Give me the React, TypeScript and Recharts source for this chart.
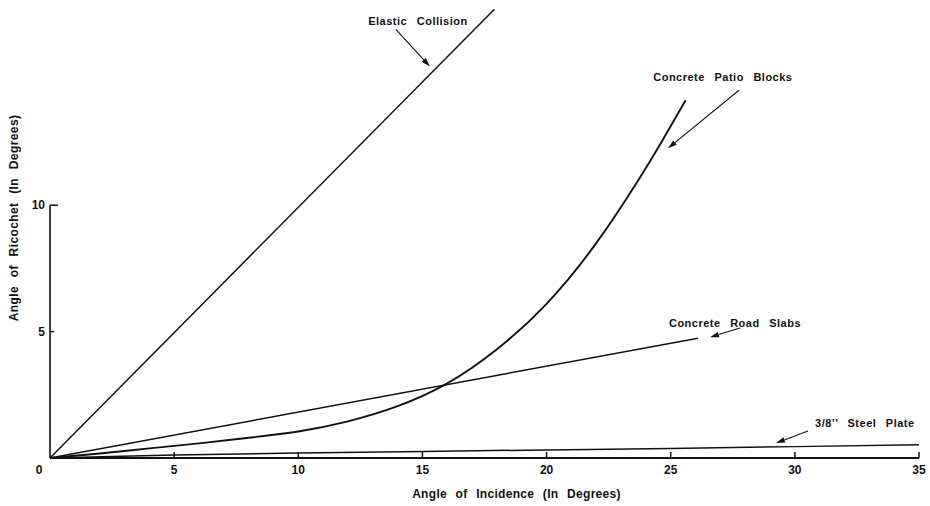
import React from 'react';
import { LineChart, Line, XAxis, YAxis, ReferenceLine, ReferenceDot } from 'recharts';

const FONT = '"Liberation Sans", Arial, Helvetica, sans-serif';
const INK = '#111';

const xTicks = [0, 5, 10, 15, 20, 25, 30, 35];
const yTicks = [0, 5, 10];
const yAxisSpan = [0, 10];

const elasticX = [0, 17.9];
const elasticY = [0, 17.75];

const patioX = [0, 2, 4, 6, 8, 10, 12, 14, 16, 18, 20, 22, 23.7, 24.6, 25.6];
const patioY = [0, 0.18, 0.38, 0.58, 0.8, 1.05, 1.45, 2.05, 2.95, 4.3, 6.1, 8.5, 11.0, 12.45, 14.15];

const roadX = [0, 26.1];
const roadY = [0, 4.74];

const steelX = [0, 5, 10, 15, 20, 25, 30, 35];
const steelY = [0, 0.12, 0.2, 0.26, 0.32, 0.38, 0.45, 0.52];

const noteText = ['Elastic Collision', 'Concrete Patio Blocks', 'Concrete Road Slabs', '3/8\u2019\u2019 Steel Plate'];
const noteX = [14.82, 27.1, 27.59, 32.82];
const noteY = [17.27, 15.06, 5.34, 1.38];
const arrowFromX = [13.93, 27.75, 27.79, 30.53];
const arrowFromY = [16.96, 14.55, 5.14, 1.07];
const arrowToX = [15.3, 24.89, 26.58, 29.24];
const arrowToY = [15.49, 12.25, 4.78, 0.59];

const toPoints = (xs: number[], ys: number[]) => xs.map((x, i) => ({ x, y: ys[i] }));

const elasticData = toPoints(elasticX, elasticY);
const patioData = toPoints(patioX, patioY);
const roadData = toPoints(roadX, roadY);
const steelData = toPoints(steelX, steelY);

const textStyle = {
  fontFamily: FONT,
  fontWeight: 700,
  fill: INK,
} as const;

const XTick = (props: any) => {
  const { x, y, payload } = props;
  const v = payload.value;
  if (v === 0) {
    return (
      <text x={x - 11} y={y + 16} textAnchor="middle" fontSize={12} {...textStyle}>
        0
      </text>
    );
  }
  return (
    <g>
      <line x1={x} x2={x} y1={y} y2={y - 6} stroke={INK} strokeWidth={1.5} />
      <text x={x} y={y + 16} textAnchor="middle" fontSize={12} {...textStyle}>
        {v}
      </text>
    </g>
  );
};

const YTick = (props: any) => {
  const { x, y, payload } = props;
  const v = payload.value;
  if (v === 0) return <g />;
  const len = v === 10 ? 8 : 4;
  return (
    <g>
      <line x1={x} x2={x + len} y1={y} y2={y} stroke={INK} strokeWidth={1.5} />
      <text x={x - 5} y={y + 4} textAnchor="end" fontSize={12} {...textStyle}>
        {v}
      </text>
    </g>
  );
};

const Arrow = (props: any) => {
  const { x1, y1, x2, y2 } = props;
  const dx = x2 - x1;
  const dy = y2 - y1;
  const len = Math.sqrt(dx * dx + dy * dy) || 1;
  const ux = dx / len;
  const uy = dy / len;
  const head = 9;
  const hw = 2.8;
  const bx = x2 - ux * head;
  const by = y2 - uy * head;
  const pts = `${x2},${y2} ${bx - uy * hw},${by + ux * hw} ${bx + uy * hw},${by - ux * hw}`;
  return (
    <g>
      <line x1={x1} y1={y1} x2={bx} y2={by} stroke={INK} strokeWidth={1.1} />
      <polygon points={pts} fill={INK} />
    </g>
  );
};

const makeNote = (text: string) => (props: any) => {
  const { cx, cy } = props;
  return (
    <text
      x={cx}
      y={cy + 4}
      textAnchor="middle"
      fontSize={11}
      letterSpacing={0.5}
      wordSpacing={6}
      {...textStyle}
    >
      {text}
    </text>
  );
};

const XTitle = (props: any) => {
  const vb = props.viewBox || { x: 50, y: 458, width: 869, height: 48 };
  return (
    <text
      x={vb.x + vb.width / 2 + 32}
      y={vb.y + 40}
      textAnchor="middle"
      fontSize={12}
      letterSpacing={0.3}
      wordSpacing={5}
      {...textStyle}
    >
      Angle of Incidence (In Degrees)
    </text>
  );
};

const YTitle = (props: any) => {
  const cx = 18;
  const cy = 218;
  return (
    <text
      x={cx}
      y={cy}
      transform={`rotate(-90 ${cx} ${cy})`}
      textAnchor="middle"
      fontSize={12}
      letterSpacing={0.4}
      wordSpacing={5}
      {...textStyle}
    >
      Angle of Ricochet (In Degrees)
    </text>
  );
};

export default function App() {
  return (
    <div style={{ position: 'absolute', left: 0, top: 0, width: 930, height: 506, background: '#fff' }}>
      <LineChart width={930} height={506} margin={{ top: 3, right: 11, bottom: 0, left: 0 }}>
        <XAxis
          type="number"
          dataKey="x"
          domain={[0, 35]}
          ticks={xTicks}
          interval={0}
          tickSize={0}
          tickMargin={0}
          tickLine={false}
          axisLine={{ stroke: INK, strokeWidth: 2 }}
          tick={<XTick />}
          height={48}
          label={<XTitle />}
        />
        <YAxis
          type="number"
          dataKey="y"
          domain={[0, 18]}
          ticks={yTicks}
          interval={0}
          tickSize={0}
          tickMargin={0}
          tickLine={false}
          axisLine={false}
          tick={<YTick />}
          width={50}
          label={<YTitle />}
        />
        <ReferenceLine
          segment={[{ x: 0, y: yAxisSpan[0] }, { x: 0, y: yAxisSpan[1] }]}
          stroke={INK}
          strokeWidth={1.6}
        />
        <Line data={elasticData} dataKey="y" type="linear" stroke={INK} strokeWidth={1.5} dot={false} isAnimationActive={false} />
        <Line data={patioData} dataKey="y" type="natural" stroke={INK} strokeWidth={1.9} dot={false} isAnimationActive={false} />
        <Line data={roadData} dataKey="y" type="linear" stroke={INK} strokeWidth={1.5} dot={false} isAnimationActive={false} />
        <Line data={steelData} dataKey="y" type="linear" stroke={INK} strokeWidth={1.5} dot={false} isAnimationActive={false} />
        {noteText.map((t, i) => (
          <ReferenceLine
            key={`a${i}`}
            segment={[{ x: arrowFromX[i], y: arrowFromY[i] }, { x: arrowToX[i], y: arrowToY[i] }]}
            ifOverflow="visible"
            shape={<Arrow />}
          />
        ))}
        {noteText.map((t, i) => (
          <ReferenceDot
            key={`n${i}`}
            x={noteX[i]}
            y={noteY[i]}
            r={0}
            ifOverflow="visible"
            shape={makeNote(t)}
          />
        ))}
      </LineChart>
    </div>
  );
}
